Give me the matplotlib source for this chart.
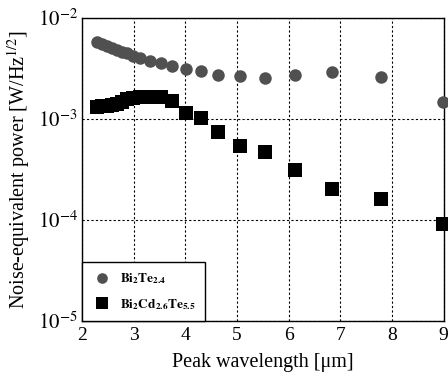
import numpy as np
import matplotlib
matplotlib.use('Agg')
import matplotlib.pyplot as plt

plt.rcParams['font.family'] = ['Liberation Serif', 'DejaVu Serif']
plt.rcParams['mathtext.fontset'] = 'stix'

wavelength = [2.285, 2.38, 2.48, 2.576, 2.67, 2.77, 2.867, 2.995, 3.125, 3.32, 3.53,
              3.75, 4.01, 4.30, 4.64, 5.05, 5.535, 6.13, 6.85, 7.78, 8.99]
nep_bi2te = [5.74e-3, 5.49e-3, 5.28e-3, 5.08e-3, 4.82e-3, 4.64e-3, 4.46e-3, 4.23e-3,
             3.99e-3, 3.78e-3, 3.60e-3, 3.35e-3, 3.10e-3, 2.99e-3, 2.75e-3, 2.67e-3,
             2.56e-3, 2.73e-3, 2.94e-3, 2.62e-3, 1.48e-3]
nep_bicdte = [1.30e-3, 1.33e-3, 1.36e-3, 1.39e-3, 1.42e-3, 1.48e-3, 1.56e-3, 1.61e-3,
              1.65e-3, 1.65e-3, 1.65e-3, 1.52e-3, 1.14e-3, 1.03e-3, 7.5e-4, 5.4e-4,
              4.68e-4, 3.13e-4, 2.02e-4, 1.62e-4, 9.1e-5]

fig = plt.figure(figsize=(4.48, 3.79), dpi=100)
ax = fig.add_axes([0.183, 0.153, 0.807, 0.7995])

ax.semilogy(wavelength, nep_bi2te, 'o', color='#505050', markersize=9,
            markeredgewidth=0, label=r'$\mathbf{Bi_2Te_{2.4}}$', clip_on=False, zorder=3)
ax.semilogy(wavelength, nep_bicdte, 's', color='black', markersize=9.5,
            markeredgewidth=0, label=r'$\mathbf{Bi_2Cd_{2.6}Te_{5.5}}$', clip_on=False, zorder=3)

ax.set_xlim(2, 9)
ax.set_ylim(1e-5, 1e-2)
ax.set_xticks([2, 3, 4, 5, 6, 7, 8, 9])
ax.set_yticks([1e-5, 1e-4, 1e-3, 1e-2])
ax.set_yticklabels([r'$10^{-5}$', r'$10^{-4}$', r'$10^{-3}$', r'$10^{-2}$'])
ax.minorticks_off()
ax.tick_params(direction='in', length=0, labelsize=14, pad=4)
ax.tick_params(axis='y', labelsize=15, pad=3)
ax.grid(True, which='major', color='black', linestyle=(0, (2, 2)), linewidth=0.8)
for s in ax.spines.values():
    s.set_linewidth(1.0)

ax.set_xlabel('Peak wavelength [\u03bcm]', fontsize=14.5, labelpad=7)
ax.set_ylabel(r'Noise-equivalent power [W/Hz$^{1/2}$]', fontsize=14.5, labelpad=4)

leg = ax.legend(loc='lower left', borderaxespad=0, fancybox=False, framealpha=1,
                edgecolor='black', fontsize=9.5, handletextpad=0.6, borderpad=0.7,
                labelspacing=0.8, markerscale=0.85, handlelength=1.6)
leg.get_frame().set_linewidth(1.0)

fig.savefig('out.png', dpi=100)
